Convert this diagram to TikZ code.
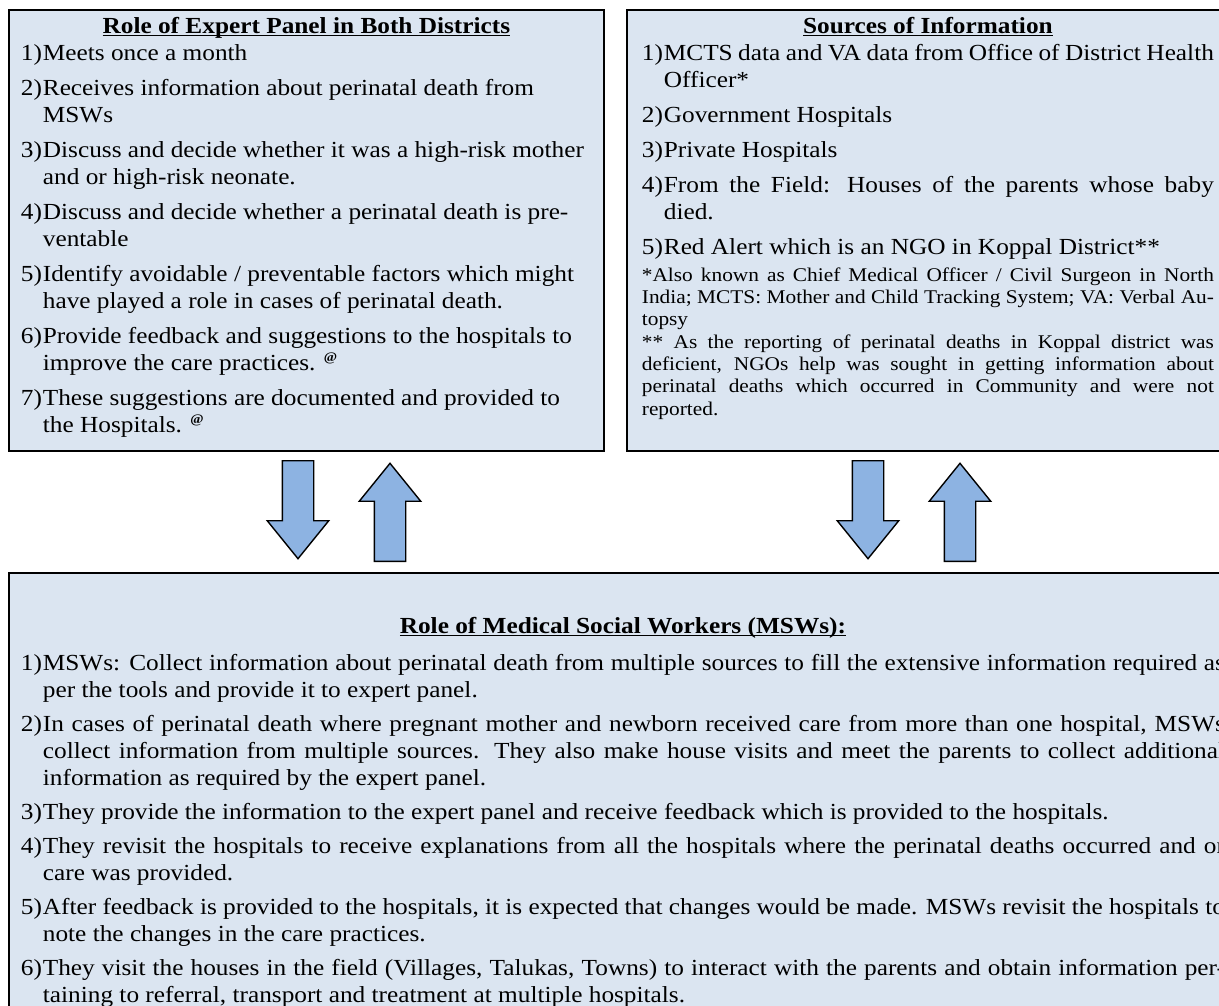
\documentclass[tikz,border=0pt]{standalone}
\usepackage{fontspec}
\setmainfont{Liberation Serif}[FakeStretch=1.1]
\usetikzlibrary{shapes.arrows}

\definecolor{panelblue}{HTML}{DBE5F1}
\definecolor{arrowblue}{HTML}{8DB3E2}

\newlength{\itmind}
\setlength{\itmind}{22pt}
\newcommand{\itm}[1]{\par\hangindent=\itmind\hangafter=1\noindent\makebox[\itmind][l]{#1)}}
\newcommand{\ttl}[1]{\par{\centering\bfseries\noindent\setbox0\hbox{#1}\rlap{\rule[-3pt]{\wd0}{1.3pt}}\box0\par}\vspace{-\parskip}}
\newcommand{\atsign}{\textsuperscript{\fontsize{13}{13}\selectfont\bfseries @}}

\tikzset{
  panel/.style={draw=black, line width=1.8pt, fill=panelblue, anchor=north west,
    inner xsep=12pt, inner ysep=6pt, font=\fontsize{23}{27}\selectfont},
  blockarrow/.style={single arrow, draw=black, line width=1.4pt, fill=arrowblue,
    minimum height=98pt, minimum width=60pt, single arrow head extend=15pt,
    single arrow tip angle=78, inner xsep=0pt, inner ysep=15pt, anchor=tail}
}

\begin{document}
\begin{tikzpicture}[x=1pt,y=-1pt]
  \useasboundingbox (0,0) rectangle (1219,1006);
  \clip (0,0) rectangle (1219,1006);

  \node[panel] (expert) at (8,9) {\parbox[t][429pt][t]{571pt}{\setlength{\parskip}{8pt}%
    \vspace*{-7pt}%
    \ttl{Role of Expert Panel in Both Districts}%
    \itm{1}Meets once a month
    \itm{2}Receives information about perinatal death from\\MSWs
    \itm{3}Discuss and decide whether it was a high-risk mother\\and or high-risk neonate.
    \itm{4}Discuss and decide whether a perinatal death is pre-\\ventable
    \itm{5}Identify avoidable / preventable factors which might\\have played a role in cases of perinatal death.
    \itm{6}Provide feedback and suggestions to the hospitals to\\improve the care practices. \atsign
    \itm{7}These suggestions are documented and provided to\\the Hospitals. \atsign\par}};

  \node[panel, inner xsep=15pt] (sources) at (626,9) {\parbox[t][429pt][t]{572pt}{\setlength{\parskip}{8pt}%
    \vspace*{-7pt}%
    \ttl{Sources of Information}%
    \itm{1}MCTS data and VA data from Office of District Health\\Officer*
    \itm{2}Government Hospitals
    \itm{3}Private Hospitals
    \itm{4}From the Field: Houses of the parents whose baby\linebreak died.
    \itm{5}Red Alert which is an NGO in Koppal District**\par
    \setlength{\parskip}{0pt}\fontsize{19.4}{22.3}\selectfont\vspace{5pt}%
    *Also known as Chief Medical Officer / Civil Surgeon in North\linebreak
    India; MCTS: Mother and Child Tracking System; VA: Verbal Au-\linebreak
    topsy\par
    ** As the reporting of perinatal deaths in Koppal district was\linebreak
    deficient, NGOs help was sought in getting information about\linebreak
    perinatal deaths which occurred in Community and were not\linebreak
    reported.\par}};

  \node[panel] (msw) at (8,572) {\parbox[t][440pt][t]{1204pt}{\setlength{\parskip}{7pt}%
    \vspace*{31pt}%
    \ttl{Role of Medical Social Workers (MSWs):}\vspace{10pt}%
    \itm{1}MSWs: Collect information about perinatal death from multiple sources to fill the extensive information required as\linebreak
    per the tools and provide it to expert panel.
    \itm{2}In cases of perinatal death where pregnant mother and newborn received care from more than one hospital, MSWs\linebreak
    collect information from multiple sources. They also make house visits and meet the parents to collect additional\linebreak
    information as required by the expert panel.
    \itm{3}They provide the information to the expert panel and receive feedback which is provided to the hospitals.
    \itm{4}They revisit the hospitals to receive explanations from all the hospitals where the perinatal deaths occurred and or\linebreak
    care was provided.
    \itm{5}After feedback is provided to the hospitals, it is expected that changes would be made. MSWs revisit the hospitals to\linebreak
    note the changes in the care practices.
    \itm{6}They visit the houses in the field (Villages, Talukas, Towns) to interact with the parents and obtain information per-\linebreak
    taining to referral, transport and treatment at multiple hospitals.\par}};

  \node[blockarrow, rotate=-90] (down1) at (298,460) {};
  \node[blockarrow, rotate=90] (up1) at (390,562) {};
  \node[blockarrow, rotate=-90] (down2) at (868,460) {};
  \node[blockarrow, rotate=90] (up2) at (960,562) {};
\end{tikzpicture}
\end{document}
